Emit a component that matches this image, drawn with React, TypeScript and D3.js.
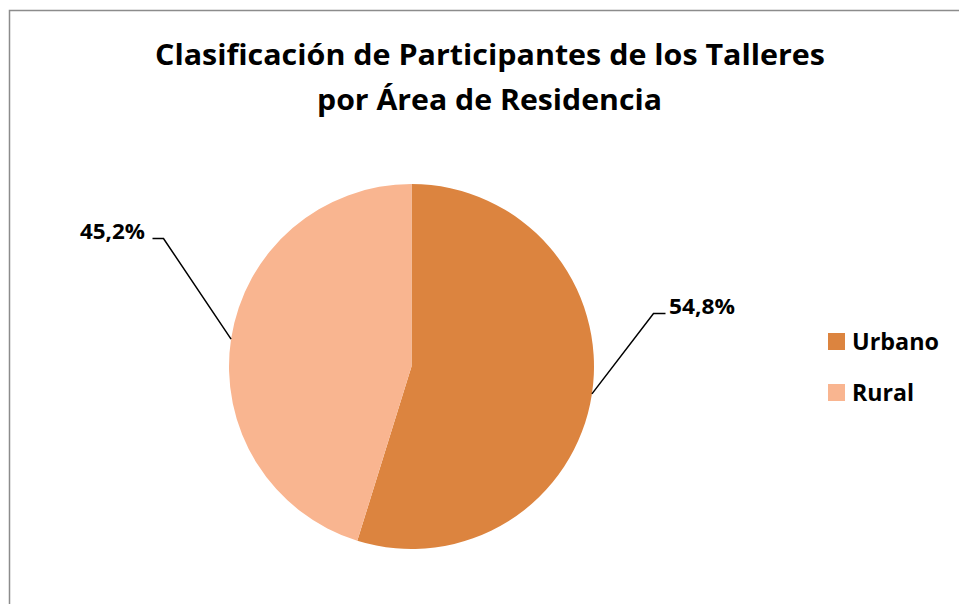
import React from "react";
import * as d3 from "d3";

const categories = ["Urbano", "Rural"];
const values = [54.8, 45.2];
const colors = ["#DC843F", "#F9B590"];
const titleLines = ["Clasificación de Participantes de los Talleres", "por Área de Residencia"];

const W = 959;
const H = 604;
const FONT = "'Open Sans', Lato, sans-serif";

export default function App() {
  const cx = 411.5;
  const cy = 366.5;
  const r = 182.5;

  const pie = d3.pie<number>().sort(null).value((d) => d);
  const arcs = pie(values);
  const arc = d3.arc<d3.PieArcDatum<number>>().innerRadius(0).outerRadius(r);

  // label elbow layout relative to center
  const elbows = [
    { ex: 242, ey: -53, hx: 12, anchor: "start", tx: 669, len: 66 },
    { ex: -248, ey: -128, hx: -11, anchor: "end", tx: 80, len: 65 },
  ];
  const legendLen = [87, 62];

  const fmt = (v: number) => v.toFixed(1).replace(".", ",") + "%";

  return (
    <svg
      width={W}
      height={H}
      style={{ position: "fixed", left: 0, top: 0, background: "#fff" }}
      fontFamily={FONT}
    >
      <rect x={9.5} y={10.5} width={W + 20} height={H + 20} fill="#fff" stroke="#8c8c8c" strokeWidth={1.5} />
      <text x={155} y={65} fontSize={29} fontWeight="bold" fill="#000" textLength={670} lengthAdjust="spacingAndGlyphs">
        {titleLines[0]}
      </text>
      <text x={317} y={110} fontSize={29} fontWeight="bold" fill="#000" textLength={345} lengthAdjust="spacingAndGlyphs">
        {titleLines[1]}
      </text>
      <g transform={`translate(${cx},${cy})`}>
        {arcs.map((a, i) => (
          <path key={categories[i]} d={arc(a) || ""} fill={colors[i]} />
        ))}
        {arcs.map((a, i) => {
          const mid = (a.startAngle + a.endAngle) / 2;
          const px = r * Math.sin(mid);
          const py = -r * Math.cos(mid);
          const e = elbows[i];
          return (
            <g key={"l" + i}>
              <polyline
                points={`${px},${py} ${e.ex},${e.ey} ${e.ex + e.hx},${e.ey}`}
                fill="none"
                stroke="#000"
                strokeWidth={1.5}
              />
              <text
                x={e.tx - cx}
                y={e.ey + 0.5}
                fontSize={21}
                fontWeight="bold"
                fill="#000"
                textLength={e.len}
                lengthAdjust="spacingAndGlyphs"
              >
                {fmt(values[i])}
              </text>
            </g>
          );
        })}
      </g>
      {categories.map((c, i) => (
        <g key={c} transform={`translate(828,${333 + i * 51})`}>
          <rect x={0} y={0} width={17} height={17} fill={colors[i]} />
          <text x={24} y={16.5} fontSize={23} fontWeight="bold" fill="#000" textLength={legendLen[i]} lengthAdjust="spacingAndGlyphs">
            {c}
          </text>
        </g>
      ))}
    </svg>
  );
}
